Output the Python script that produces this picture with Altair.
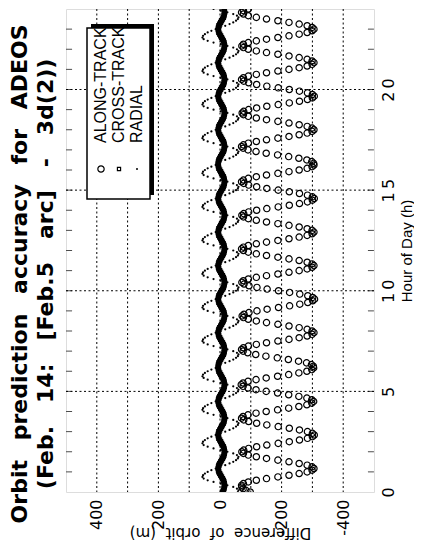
import altair as alt
import pandas as pd

STEP_MIN = 5  # sampling interval of the prediction (minutes)

# ALONG-TRACK difference (m), one value per 5 minutes from 0 h to 24 h
along = [
    -98, -84, -75, -71,
    -70, -76, -92, -118, -151, -188, -224, -257, -283, -299, -305, -299, -283, -257, -224, -188, -151, -118, -92, -76,
    -71, -77, -93, -119, -152, -189, -225, -258, -284, -300, -306, -300, -284, -258, -225, -189, -152, -119, -93, -77,
    -70, -75, -91, -117, -150, -187, -223, -256, -282, -298, -304, -298, -282, -256, -223, -187, -150, -117, -91, -75,
    -69, -75, -91, -117, -150, -187, -223, -256, -282, -298, -304, -303, -297, -281, -255, -222, -186, -149, -116, -90, -75,
    -70, -76, -92, -118, -151, -188, -224, -257, -283, -299, -305, -299, -283, -257, -224, -188, -151, -118, -92, -76,
    -72, -78, -94, -120, -153, -190, -226, -259, -285, -301, -307, -301, -285, -259, -226, -190, -153, -120, -94, -78,
    -71, -76, -92, -118, -151, -188, -224, -257, -283, -299, -305, -299, -283, -257, -224, -188, -151, -118, -92, -76,
    -70, -76, -92, -118, -151, -188, -224, -257, -283, -299, -305, -299, -283, -257, -224, -188, -151, -118, -92, -76,
    -71, -77, -93, -119, -152, -189, -225, -258, -284, -300, -306, -300, -284, -258, -225, -189, -152, -119, -93, -77,
    -70, -76, -92, -118, -151, -188, -224, -257, -283, -299, -305, -304, -298, -282, -256, -223, -187, -150, -117, -91, -75,
    -70, -76, -92, -118, -151, -188, -224, -257, -283, -299, -305, -299, -283, -257, -224, -188, -151, -118, -92, -76,
    -72, -77, -93, -119, -152, -189, -225, -258, -284, -300, -306, -300, -284, -258, -225, -189, -152, -119, -93, -77,
    -70, -76, -92, -118, -151, -188, -224, -257, -283, -299, -305, -299, -283, -257, -224, -188, -151, -118, -92, -76,
    -71, -76, -92, -118, -151, -188, -224, -257, -283, -299, -305, -299, -283, -257, -224, -188, -151, -118, -92, -76,
    -70, -76, -92,
]

# CROSS-TRACK difference (m)
cross = [
    -8, -11, -13, -14,
    -15, -14, -13, -11, -8, -5, -2, 1, 4, 5, 6, 5, 4, 1, -2, -5, -8, -11, -13, -14,
    -15, -14, -13, -11, -8, -5, -2, 1, 4, 5, 6, 5, 4, 1, -2, -5, -8, -11, -13, -14,
    -15, -14, -13, -11, -8, -5, -2, 1, 4, 5, 6, 5, 4, 1, -2, -5, -8, -11, -13, -14,
    -15, -14, -13, -11, -8, -5, -2, 1, 4, 5, 6, 6, 5, 4, 1, -2, -5, -8, -11, -13, -14,
    -15, -14, -13, -11, -8, -5, -2, 1, 4, 5, 6, 5, 4, 1, -2, -5, -8, -11, -13, -14,
    -15, -14, -13, -11, -8, -5, -2, 1, 4, 5, 6, 5, 4, 1, -2, -5, -8, -11, -13, -14,
    -15, -14, -13, -11, -8, -5, -2, 1, 4, 5, 6, 5, 4, 1, -2, -5, -8, -11, -13, -14,
    -15, -14, -13, -11, -8, -5, -2, 1, 4, 5, 6, 5, 4, 1, -2, -5, -8, -11, -13, -14,
    -15, -14, -13, -11, -8, -5, -2, 1, 4, 5, 6, 5, 4, 1, -2, -5, -8, -11, -13, -14,
    -15, -14, -13, -11, -8, -5, -2, 1, 4, 5, 6, 6, 5, 4, 1, -2, -5, -8, -11, -13, -14,
    -15, -14, -13, -11, -8, -5, -2, 1, 4, 5, 6, 5, 4, 1, -2, -5, -8, -11, -13, -14,
    -15, -14, -13, -11, -8, -5, -2, 1, 4, 5, 6, 5, 4, 1, -2, -5, -8, -11, -13, -14,
    -15, -14, -13, -11, -8, -5, -2, 1, 4, 5, 6, 5, 4, 1, -2, -5, -8, -11, -13, -14,
    -15, -14, -13, -11, -8, -5, -2, 1, 4, 5, 6, 5, 4, 1, -2, -5, -8, -11, -13, -14,
    -15, -14, -13,
]

# RADIAL difference (m)
radial = [
    -58, -60, -55, -43,
    -24, -2, 21, 40, 53, 57, 55, 49, 40, 28, 14, -2, -17, -31, -43, -52, -58, -60, -55, -43,
    -24, -2, 21, 40, 53, 57, 55, 49, 40, 28, 14, -2, -17, -31, -43, -52, -58, -60, -55, -43,
    -24, -2, 21, 40, 53, 57, 55, 49, 40, 28, 14, -2, -17, -31, -43, -52, -58, -60, -55, -43,
    -24, -2, 21, 40, 53, 57, 55, 49, 40, 28, 14, 6, -2, -17, -31, -43, -52, -58, -60, -55, -43,
    -24, -2, 21, 40, 53, 57, 55, 49, 40, 28, 14, -2, -17, -31, -43, -52, -58, -60, -55, -43,
    -24, -2, 21, 40, 53, 57, 55, 49, 40, 28, 14, -2, -17, -31, -43, -52, -58, -60, -55, -43,
    -24, -2, 21, 40, 53, 57, 55, 49, 40, 28, 14, -2, -17, -31, -43, -52, -58, -60, -55, -43,
    -24, -2, 21, 40, 53, 57, 55, 49, 40, 28, 14, -2, -17, -31, -43, -52, -58, -60, -55, -43,
    -24, -2, 21, 40, 53, 57, 55, 49, 40, 28, 14, -2, -17, -31, -43, -52, -58, -60, -55, -43,
    -24, -2, 21, 40, 53, 57, 55, 49, 40, 28, 14, 6, -2, -17, -31, -43, -52, -58, -60, -55, -43,
    -24, -2, 21, 40, 53, 57, 55, 49, 40, 28, 14, -2, -17, -31, -43, -52, -58, -60, -55, -43,
    -24, -2, 21, 40, 53, 57, 55, 49, 40, 28, 14, -2, -17, -31, -43, -52, -58, -60, -55, -43,
    -24, -2, 21, 40, 53, 57, 55, 49, 40, 28, 14, -2, -17, -31, -43, -52, -58, -60, -55, -43,
    -24, -2, 21, 40, 53, 57, 55, 49, 40, 28, 14, -2, -17, -31, -43, -52, -58, -60, -55, -43,
    -24, -2, 21,
]

hours = [round(i * STEP_MIN / 60, 4) for i in range(len(along))]

diff_ticks = [400, 200, 0, -200, -400]
diff_grid = [-400, -300, -200, -100, 0, 100, 200, 300, 400]
hour_ticks = [0, 5, 10, 15, 20]
hour_grid = [5, 10, 15, 20]
hour_minor = list(range(1, 24))

legend_labels = ["ALONG-TRACK", "CROSS-TRACK", "RADIAL"]

G1 = "\u00a0\u00a0\u2009"      # word gap, line 1
G2 = "\u00a0" * 3              # word gap, line 2
title_lines = [
    G1.join(["Orbit", "prediction", "accuracy", "for", "ADEOS"]),
    "\u00a0" * 7 + G2.join(["(Feb.", "14:", "[Feb.5", "arc]", "-", "3d(2))"]),
]

TOTAL_W, TOTAL_H = 406, 538
FONT = "Liberation Sans"
DFONT = "DejaVu Sans"

df = pd.DataFrame({"hour": hours, "along": along, "cross": cross, "radial": radial})

xs = alt.Scale(domain=[-500, 500], reverse=True, nice=False, zero=False)
ys = alt.Scale(domain=[0, 24], nice=False, zero=False)

x_axis = alt.Axis(
    values=diff_ticks, labelExpr="datum.value + ''", labelAngle=270,
    labelFontSize=16, labelFont=DFONT, labelPadding=7,
    title="Difference\u00a0\u00a0of\u00a0\u00a0orbit\u00a0\u00a0(m)", titleAngle=180,
    titleBaseline="bottom", titleFontSize=15, titleFont=DFONT, titleFontWeight="normal",
    titlePadding=-11, grid=False, ticks=False, domain=False,
)
y_axis = alt.Axis(
    orient="right", values=hour_ticks,
    labelExpr="datum.value >= 10 ? join(split(datum.value + '', ''), '\u2009') : datum.value + ''",
    labelAngle=270, labelAlign="center", labelBaseline="top", labelPadding=6,
    labelFontSize=16, labelFont=DFONT,
    title="Hour of Day (h)", titleAngle=270, titleBaseline="top", titleFontSize=15,
    titleFont=FONT, titleFontWeight="normal", titlePadding=3,
    grid=False, ticks=False, domain=False,
)

base = alt.Chart(df)

vgrid = alt.Chart(pd.DataFrame({"v": diff_grid})).mark_rule(
    color="black", strokeWidth=1, strokeDash=[2, 2.5]
).encode(x=alt.X("v:Q", scale=xs, axis=x_axis))

hgrid = alt.Chart(pd.DataFrame({"h": hour_grid})).mark_rule(
    color="black", strokeWidth=1, strokeDash=[2, 2.5]
).encode(y=alt.Y("h:Q", scale=ys, axis=y_axis))

# small inner ticks every hour on both long edges of the frame
ticks_left = alt.Chart(pd.DataFrame({"h": hour_minor})).mark_tick(
    orient="horizontal", color="black", size=6, thickness=1
).encode(y=alt.Y("h:Q", scale=ys), x=alt.X(datum=490, scale=xs))
ticks_right = alt.Chart(pd.DataFrame({"h": hour_minor})).mark_tick(
    orient="horizontal", color="black", size=6, thickness=1
).encode(y=alt.Y("h:Q", scale=ys), x=alt.X(datum=-490, scale=xs))

radial_pts = base.mark_point(shape="circle", filled=True, color="black", size=5,
                             opacity=1, clip=True).encode(
    x=alt.X("radial:Q", scale=xs), y=alt.Y("hour:Q", scale=ys)
)
cross_pts = base.mark_point(shape="square", filled=True, color="black", size=28,
                            opacity=1, clip=True).encode(
    x=alt.X("cross:Q", scale=xs), y=alt.Y("hour:Q", scale=ys)
)
along_pts = base.mark_point(shape="circle", filled=False, color="black", size=40,
                            strokeWidth=1.2, opacity=1, clip=True).encode(
    x=alt.X("along:Q", scale=xs), y=alt.Y("hour:Q", scale=ys)
)

# legend box (drawn in pixel space)
leg_shadow = alt.Chart(pd.DataFrame({"a": [0]})).mark_rect(color="black").encode(
    x=alt.value(25), x2=alt.value(88), y=alt.value(15), y2=alt.value(186)
)
leg_box = alt.Chart(pd.DataFrame({"a": [0]})).mark_rect(
    fill="white", stroke="black", strokeWidth=1.5
).encode(x=alt.value(21), x2=alt.value(84), y=alt.value(19), y2=alt.value(190))

leg_layers = []
leg_x = [35, 53, 71]
leg_shapes = [("circle", False, 40), ("square", False, 10), ("circle", True, 4)]
for lab, lx, (shp, filled, sz) in zip(legend_labels, leg_x, leg_shapes):
    leg_layers.append(
        alt.Chart(pd.DataFrame({"t": [lab]})).mark_text(
            angle=270, align="left", baseline="middle", fontSize=16, font=FONT, color="black"
        ).encode(text="t:N", x=alt.value(lx), y=alt.value(134))
    )
    leg_layers.append(
        alt.Chart(pd.DataFrame({"t": [lab]})).mark_point(
            shape=shp, filled=filled, color="black", size=sz, strokeWidth=1.2, opacity=1
        ).encode(x=alt.value(lx), y=alt.value(160))
    )

chart = alt.layer(
    vgrid, hgrid, radial_pts, cross_pts, along_pts, ticks_left, ticks_right,
    leg_shadow, leg_box, *leg_layers
).properties(
    width=TOTAL_W, height=TOTAL_H,
    autosize=alt.AutoSizeParams(type="fit", contains="padding"),
    padding={"left": 0, "top": 0, "right": 0, "bottom": 6},
    title=alt.TitleParams(
        text=title_lines, orient="left", angle=270, anchor="middle", frame="bounds",
        fontSize=22, font=DFONT, fontWeight="bold", lineHeight=26, offset=8, color="black",
    ),
).configure_view(stroke="black", strokeWidth=2).configure(background="white")

chart.save("out.html", embed_options={"renderer": "svg", "actions": False})
